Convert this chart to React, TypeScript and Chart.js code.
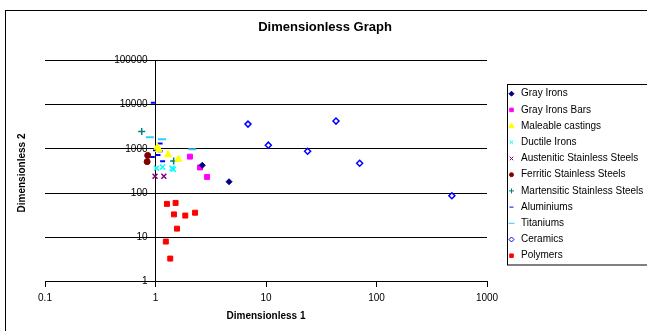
import React, { useEffect, useRef } from "react";
import { Chart, registerables } from "chart.js";
import { drawPoint } from "chart.js/helpers";

Chart.register(...registerables);

const chartTitle = "Dimensionless Graph";
const xTitle = "Dimensionless 1";
const yTitle = "Dimensionless 2";

const xTickValues = [0.1, 1, 10, 100, 1000];
const yTickValues = [1, 10, 100, 1000, 10000, 100000];

const seriesNames = [
  "Gray Irons",
  "Gray Irons Bars",
  "Maleable castings",
  "Ductile Irons",
  "Austenitic Stainless Steels",
  "Ferritic Stainless Steels",
  "Martensitic Stainless Steels",
  "Aluminiums",
  "Titaniums",
  "Ceramics",
  "Polymers",
];

const grayIronsX = [2.65, 4.63];
const grayIronsY = [426, 181];
const grayIronsBarsX = [2.05, 2.53, 2.93];
const grayIronsBarsY = [668, 380, 232];
const maleableX = [1.04, 1.07, 1.3, 1.61];
const maleableY = [1094, 960, 741, 583];
const ductileX = [1.02, 1.16, 1.41, 1.45];
const ductileY = [366, 390, 364, 345];
const austeniticX = [0.99, 1.19];
const austeniticY = [241, 241];
const ferriticX = [0.85, 0.84];
const ferriticY = [712, 515];
const martensiticX = [0.75, 1.46];
const martensiticY = [2470, 534];
const aluminiumX = [0.955, 1.1, 1.0, 1.105, 1.053, 0.935, 1.16];
const aluminiumY = [11000, 1320, 935, 887, 731, 658, 526];
const titaniumX = [0.89, 1.145, 2.15];
const titaniumY = [1845, 1660, 980];
const ceramicsX = [6.87, 43.0, 10.5, 23.8, 70.4, 481];
const ceramicsY = [3640, 4260, 1214, 887, 473, 87];
const polymersX = [1.27, 1.52, 1.47, 1.86, 2.28, 1.565, 1.24, 1.36];
const polymersY = [57, 60, 33, 31, 36, 15.7, 8.0, 3.3];

const seriesX = [
  grayIronsX, grayIronsBarsX, maleableX, ductileX, austeniticX, ferriticX,
  martensiticX, aluminiumX, titaniumX, ceramicsX, polymersX,
];
const seriesY = [
  grayIronsY, grayIronsBarsY, maleableY, ductileY, austeniticY, ferriticY,
  martensiticY, aluminiumY, titaniumY, ceramicsY, polymersY,
];

type Style = { pointStyle: string; radius: number; fill: string; stroke: string; bw: number; lr: number };
const styles: Style[] = [
  { pointStyle: "rectRot", radius: 3, fill: "#000080", stroke: "#000080", bw: 1, lr: 2.5 },
  { pointStyle: "rect", radius: 3.5, fill: "#FF00FF", stroke: "#FF00FF", bw: 1, lr: 2.5 },
  { pointStyle: "triangle", radius: 4, fill: "#FFFF00", stroke: "#FFFF00", bw: 1, lr: 3 },
  { pointStyle: "crossRot", radius: 3.5, fill: "#00FFFF", stroke: "#00FFFF", bw: 1.5, lr: 2.5 },
  { pointStyle: "crossRot", radius: 3.5, fill: "#800080", stroke: "#800080", bw: 1.5, lr: 2.5 },
  { pointStyle: "circle", radius: 3, fill: "#800000", stroke: "#800000", bw: 1, lr: 2 },
  { pointStyle: "cross", radius: 3.5, fill: "#008080", stroke: "#008080", bw: 1.5, lr: 2.5 },
  { pointStyle: "line", radius: 2.5, fill: "#0000FF", stroke: "#0000FF", bw: 2, lr: 2 },
  { pointStyle: "line", radius: 4, fill: "#33CCFF", stroke: "#33CCFF", bw: 2, lr: 3 },
  { pointStyle: "rectRot", radius: 3, fill: "#FFFFFF", stroke: "#0000FF", bw: 1.5, lr: 2.5 },
  { pointStyle: "rect", radius: 3.5, fill: "#FF0000", stroke: "#FF0000", bw: 1, lr: 2.5 },
];

const FONT = "'Liberation Sans', Arial, Helvetica, sans-serif";

const decorPlugin = {
  id: "decor",
  beforeDraw(chart: any) {
    const ctx = chart.ctx;
    ctx.save();
    ctx.fillStyle = "#ffffff";
    ctx.fillRect(0, 0, chart.width, chart.height);
    ctx.restore();
  },
  afterDraw(chart: any) {
    const ctx = chart.ctx;
    const area = chart.chartArea;
    ctx.save();
    // outer chart border
    ctx.strokeStyle = "#000000";
    ctx.lineWidth = 1;
    ctx.strokeRect(5.5, 10.5, chart.width + 20, chart.height + 20);

    // title
    ctx.fillStyle = "#000000";
    ctx.textAlign = "center";
    ctx.textBaseline = "middle";
    ctx.font = `bold 13px ${FONT}`;
    ctx.fillText(chartTitle, 325, 27);

    // axis titles
    ctx.font = `bold 10px ${FONT}`;
    ctx.fillText(xTitle, (area.left + area.right) / 2, 316);
    ctx.save();
    ctx.translate(22, (area.top + area.bottom) / 2 + 2);
    ctx.rotate(-Math.PI / 2);
    ctx.fillText(yTitle, 0, 0);
    ctx.restore();

    // y tick labels (left of the crossing axis at x = 1)
    const ys = chart.scales.y;
    const xs = chart.scales.x;
    const axisX = xs.getPixelForValue(1);
    ctx.font = `10px ${FONT}`;
    ctx.textAlign = "right";
    ctx.textBaseline = "middle";
    ctx.fillStyle = "#000000";
    yTickValues.forEach((v) => {
      ctx.fillText(String(v), axisX - 8, ys.getPixelForValue(v));
    });

    // legend
    const lx = 507.5, ly = 84.5, lw = 150, lh = 180.5;
    ctx.strokeStyle = "#000000";
    ctx.lineWidth = 1;
    ctx.strokeRect(lx, ly, lw, lh);
    ctx.font = `10px ${FONT}`;
    ctx.textAlign = "left";
    ctx.textBaseline = "middle";
    seriesNames.forEach((name, i) => {
      const y = 93.7 + i * 16.2;
      const s = styles[i];
      ctx.fillStyle = s.fill;
      ctx.strokeStyle = s.stroke;
      drawPoint(ctx, { pointStyle: s.pointStyle, radius: s.lr, rotation: 0, borderWidth: s.bw } as any, 511.5, y);
      ctx.fillStyle = "#000000";
      ctx.fillText(name, 521, y);
    });
    ctx.restore();
  },
};

export default function App() {
  const ref = useRef<HTMLCanvasElement | null>(null);
  useEffect(() => {
    if (!ref.current) return;
    const datasets = seriesNames.map((name, i) => ({
      label: name,
      data: seriesX[i].map((x, j) => ({ x, y: seriesY[i][j] })),
      pointStyle: styles[i].pointStyle as any,
      pointRadius: styles[i].radius,
      pointBackgroundColor: styles[i].fill,
      pointBorderColor: styles[i].stroke,
      pointBorderWidth: styles[i].bw,
      showLine: false,
    }));
    const chart = new Chart(ref.current, {
      type: "scatter",
      data: { datasets },
      options: {
        responsive: false,
        animation: false,
        devicePixelRatio: 1,
        layout: { padding: { left: 45, top: 60.5, right: 160, bottom: 49.5 } },
        plugins: { legend: { display: false }, tooltip: { enabled: false }, title: { display: false } },
        scales: {
          x: {
            type: "logarithmic",
            min: 0.1,
            max: 1000,
            position: { y: 1 } as any,
            afterBuildTicks: (s: any) => {
              s.ticks = xTickValues.map((v) => ({ value: v }));
            },
            ticks: {
              autoSkip: false,
              maxRotation: 0,
              padding: 6,
              color: "#000000",
              font: { family: FONT, size: 10 },
              callback: (v: any) => String(v),
            },
            grid: { display: true, drawOnChartArea: false, drawTicks: true, tickLength: 5, color: "#000000" },
            border: { display: true, color: "#000000", width: 1 },
          },
          y: {
            type: "logarithmic",
            min: 1,
            max: 100000,
            position: { x: 1 } as any,
            afterBuildTicks: (s: any) => {
              s.ticks = yTickValues.map((v) => ({ value: v }));
            },
            ticks: {
              display: false,
              autoSkip: false,
            },
            grid: { display: true, drawOnChartArea: true, drawTicks: true, tickLength: 4, color: "#000000", lineWidth: 1 },
            border: { display: true, color: "#000000", width: 1 },
          },
        },
      },
      plugins: [decorPlugin],
    });
    return () => chart.destroy();
  }, []);
  return (
    <div style={{ position: "fixed", left: 0, top: 0, width: 647, height: 331, background: "#fff" }}>
      <canvas ref={ref} width={647} height={331} style={{ width: 647, height: 331, display: "block" }} />
    </div>
  );
}
